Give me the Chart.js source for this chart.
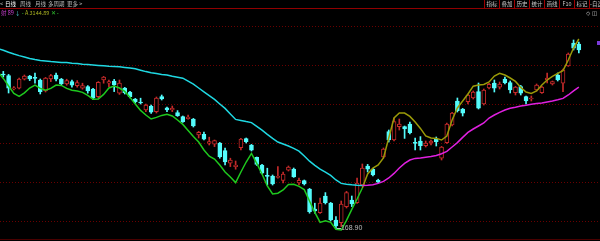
<!DOCTYPE html>
<html>
<head>
<meta charset="utf-8">
<script src="https://cdn.jsdelivr.net/npm/chart.js@4/dist/chart.umd.min.js"></script>
<style>
  html, body { margin: 0; padding: 0; background: #000; }
  #wrap { position: relative; width: 600px; height: 241px; overflow: hidden; font-family: "Noto Sans CJK SC", sans-serif; }
  #wrap canvas { position: absolute; left: 0; top: 0; }
  .t { position: absolute; font-size: 5.5px; line-height: 8px; white-space: nowrap; color: #b8b8b8; }
  #tabs span { position: absolute; top: 0; }
  #btns { position: absolute; left: 484px; top: 0; height: 8px; display: flex; }
  #btns div { width: 14px; height: 8px; border-left: 1px solid #a00000; text-align: center; font-size: 5.5px; line-height: 8px; color: #c8c8c8; white-space: nowrap; }
  #rule { position: absolute; left: 0; top: 8px; width: 600px; height: 1px; background: #900000; }
  #floor { position: absolute; left: 0; top: 239px; width: 600px; height: 1px; background: #4a0000; }
  #info { position: absolute; left: 1px; top: 9px; font-size: 5.5px; line-height: 8px; white-space: nowrap; }
  #marker { position: absolute; left: 597px; top: 41px; width: 3px; height: 4px; background: #7a3ad8; }
</style>
</head>
<body>
<div id="wrap">
  <canvas id="c" width="600" height="241"></canvas>
  <div class="t" id="tabs">
    <span style="left:0">&lt;</span>
    <span style="left:5px;color:#fff">日线</span>
    <span style="left:20px">周线</span>
    <span style="left:35px">月线</span>
    <span style="left:48px">多周期</span>
    <span style="left:67px">更多 &gt;</span>
  </div>
  <div id="btns">
    <div>指标</div><div>叠加</div><div>历史</div><div>统计</div><div>画线</div><div>F10</div><div>标记</div><div style="text-align:left">-自选</div>
  </div>
  <div id="rule"></div>
  <div id="info">
    <span style="color:#d040d8">射 89</span>
    <span style="color:#50d8e0">↓</span>
    <span style="color:#30c030">-</span>
    <span style="color:#a8b020">A 3144.89</span>
    <span style="color:#30c030">✕ -</span>
  </div>
  <div class="t" style="left:586px;top:9px;color:#d0d0d0;font-family:'DejaVu Sans'">◇ ◫</div>
  <div id="marker"></div>
  <div id="floor"></div>
</div>
<script>
// daily candles, index 1..110
const OPEN = [
  246.4, 245.6, 239.0, 239.3, 243.8, 245.4, 244.7, 243.4, 237.9, 243.9,
  245.9, 243.8, 241.4, 242.6, 240.6, 239.3, 240.1, 238.8, 235.1, 243.4,
  241.8, 242.9, 236.8, 239.3, 237.3, 233.8, 232.4, 228.4, 230.4, 227.6,
  235.1, 229.5, 228.4, 227.1, 225.1, 224.1, 223.8, 215.9, 216.2, 211.8,
  211.3, 211.8, 208.1, 201.8, 200.1, 209.6, 214.1, 210.8, 204.7, 200.9,
  195.7, 195.4, 194.7, 193.2, 198.3, 198.8, 191.9, 193.1, 188.8, 178.9,
  177.1, 185.4, 181.8, 173.4, 172.1, 180.1, 183.4, 182.1, 190.9, 200.4,
  198.8, 193.4, 204.9, 217.6, 213.4, 220.1, 220.1, 221.3, 212.2, 212.9,
  210.6, 211.9, 213.8, 204.3, 212.1, 220.9, 232.9, 228.8, 232.6, 234.4,
  237.6, 231.4, 239.4, 241.8, 239.8, 243.8, 242.1, 237.1, 240.1, 235.1,
  233.9, 238.4, 237.1, 243.4, 241.4, 245.9, 241.8, 250.4, 261.8, 261.4
];
const HIGH = [
  247.7, 246.2, 240.1, 244.4, 245.9, 245.7, 246.8, 243.9, 244.7, 246.2,
  246.8, 244.2, 243.8, 243.4, 243.1, 241.8, 240.6, 239.2, 242.6, 245.2,
  243.4, 243.7, 243.4, 239.7, 237.7, 234.2, 234.3, 231.4, 230.9, 234.9,
  235.9, 229.9, 230.4, 228.1, 225.4, 225.9, 224.2, 217.7, 217.4, 214.8,
  213.4, 212.2, 209.3, 204.3, 202.9, 214.2, 214.4, 211.2, 204.9, 201.2,
  199.3, 195.9, 200.1, 197.4, 200.4, 199.4, 194.4, 193.4, 189.2, 181.8,
  184.3, 187.1, 182.2, 175.1, 182.9, 187.7, 185.4, 194.4, 201.4, 201.2,
  199.2, 193.8, 209.4, 218.4, 224.3, 223.9, 220.4, 222.4, 214.4, 215.1,
  212.9, 213.4, 214.9, 210.2, 221.9, 227.2, 234.4, 229.2, 236.4, 237.9,
  241.9, 238.9, 241.7, 243.4, 242.4, 244.9, 242.9, 240.2, 240.7, 235.4,
  235.4, 241.4, 240.2, 246.9, 242.9, 246.9, 248.9, 256.9, 263.4, 262.4
];
const LOW = [
  244.9, 236.9, 238.4, 238.9, 243.4, 243.1, 241.8, 236.4, 237.4, 242.6,
  242.9, 240.9, 240.8, 239.8, 239.8, 238.8, 236.8, 233.7, 234.4, 241.8,
  240.1, 237.6, 236.2, 236.4, 234.4, 231.9, 231.4, 227.6, 226.7, 226.9,
  233.4, 227.6, 227.6, 225.2, 222.2, 223.8, 219.9, 214.4, 213.4, 210.9,
  210.1, 204.3, 200.9, 200.1, 198.8, 208.4, 211.9, 207.9, 200.7, 196.4,
  190.9, 190.9, 194.3, 191.9, 197.9, 194.7, 190.9, 190.9, 176.8, 176.8,
  176.7, 181.4, 172.9, 168.9, 170.1, 179.4, 180.1, 181.7, 190.4, 197.4,
  195.4, 191.9, 204.4, 212.4, 212.9, 218.4, 214.2, 216.4, 208.4, 208.4,
  209.9, 210.9, 210.4, 203.4, 211.7, 220.4, 227.4, 225.4, 231.4, 233.9,
  228.9, 230.9, 238.9, 237.4, 238.9, 241.4, 236.9, 235.9, 235.9, 231.4,
  232.9, 237.9, 236.7, 241.9, 240.9, 242.9, 237.6, 250.2, 258.4, 256.9
];
const CLOSE = [
  245.9, 239.3, 239.5, 243.8, 245.4, 243.9, 244.2, 237.6, 244.3, 245.6,
  243.8, 241.4, 243.1, 240.8, 242.1, 240.6, 237.9, 234.3, 242.2, 244.8,
  242.6, 240.9, 241.8, 237.1, 235.1, 232.6, 231.9, 230.9, 227.3, 234.3,
  233.9, 228.4, 229.3, 225.6, 222.6, 224.8, 220.4, 217.2, 213.8, 212.6,
  213.1, 205.1, 202.4, 203.4, 200.9, 213.8, 212.6, 208.3, 201.2, 196.8,
  195.2, 191.4, 195.2, 196.4, 199.8, 194.9, 193.2, 191.4, 177.6, 177.9,
  181.8, 182.1, 173.4, 170.4, 181.3, 187.1, 181.4, 191.8, 199.3, 198.8,
  195.9, 192.3, 208.9, 213.4, 222.6, 221.3, 218.9, 217.1, 211.7, 210.6,
  211.8, 212.9, 212.6, 209.8, 221.3, 226.8, 228.1, 226.8, 235.9, 237.4,
  229.3, 238.4, 241.2, 239.3, 241.4, 242.1, 238.4, 239.8, 236.8, 232.9,
  234.4, 240.9, 239.8, 244.4, 242.6, 243.4, 248.4, 256.3, 259.3, 258.4
];

// trend lines, index 0..69 (downtrend) and 69..110 (uptrend)
const RESIST = [
  259.1, 258.3, 257.3, 256.4, 255.6, 254.9, 254.2, 253.6, 253.2, 252.9,
  252.6, 252.4, 252.2, 252.1, 251.8, 251.6, 251.3, 251.1, 250.9, 250.7,
  250.5, 250.3, 250.2, 250.0, 249.7, 249.4, 249.0, 248.3, 247.6, 247.0,
  246.6, 246.2, 245.9, 245.3, 244.8, 244.3, 242.8, 241.3, 239.4, 237.5,
  235.6, 233.7, 231.4, 229.2, 226.4, 223.7, 223.2, 222.6, 222.1, 220.2,
  218.3, 216.2, 214.2, 212.4, 211.4, 210.4, 209.2, 207.8, 205.4, 202.8,
  200.7, 198.8, 197.3, 195.7, 193.4, 191.7, 191.3, 191.0, 190.8, 190.7
];
const SUPPORT = [
  190.7, 190.8, 191.0, 191.7, 192.7, 194.4, 196.7, 199.4, 201.7, 203.4,
  204.2, 204.4, 204.8, 205.1, 205.7, 206.5, 207.7, 209.9, 212.1, 214.7,
  217.2, 218.9, 220.4, 221.9, 224.4, 225.9, 227.2, 228.4, 229.3, 229.8,
  230.4, 230.8, 231.3, 231.6, 231.9, 232.4, 232.9, 233.5, 234.2, 235.9,
  238.0, 239.8
];
const FAST_DOWN = [
  247.4, 244.2, 240.4, 236.7, 235.2, 237.0, 239.4, 240.8, 239.2, 238.3,
  239.2, 240.9, 240.7, 239.2, 238.3, 237.9, 237.2, 235.7, 233.8, 233.9,
  236.2, 239.4, 240.4, 239.4, 237.7, 234.7, 231.4, 228.2, 225.9, 223.9,
  224.7, 225.7, 226.3, 225.4, 223.4, 221.2, 218.2, 215.2, 212.4, 208.4,
  205.3, 203.9, 200.9, 197.4, 194.9, 192.1, 197.4, 202.4, 206.7, 201.7,
  196.4, 190.4, 186.4, 186.8, 188.4, 191.2, 191.3, 190.2, 188.6, 182.9,
  177.2, 172.2, 173.0, 172.2, 168.8, 168.4, 173.2, 178.7, 183.9, 189.4
];
const FAST_UP = [
  189.4, 196.4, 199.4, 200.9, 204.4, 214.4, 224.4, 226.9, 226.9, 225.2,
  222.4, 219.2, 215.4, 214.4, 214.2, 213.4, 215.4, 223.4, 229.4, 232.9,
  236.4, 240.3, 240.9, 241.2, 242.4, 245.4, 246.7, 245.9, 244.4, 242.7,
  239.7, 237.4, 236.7, 237.9, 240.9, 243.4, 245.2, 246.7, 248.1, 253.4,
  259.4, 263.9
];
const TURN = 69; // index where the trend flips

const GRID = [270.4, 250.9, 231.4, 211.9, 192.4, 172.9];

const UP = '#c42a2a';
const DOWN = '#54fcfc';

const isUp = (i) => CLOSE[i] >= OPEN[i];
const candleColor = OPEN.map((o, i) => (isUp(i) ? UP : DOWN));

// dotted price grid, drawn under the candles
const priceGrid = {
  id: 'priceGrid',
  beforeDatasetsDraw(chart) {
    const { ctx, scales: { y } } = chart;
    ctx.save();
    ctx.strokeStyle = '#6a0000';
    ctx.lineWidth = 1;
    ctx.setLineDash([1, 2]);
    GRID.forEach((v) => {
      const py = Math.round(y.getPixelForValue(v)) + 0.5;
      ctx.beginPath();
      ctx.moveTo(0, py);
      ctx.lineTo(598, py);
      ctx.stroke();
    });
    ctx.restore();
  },
};

const lowLabel = {
  id: 'lowLabel',
  afterDatasetsDraw(chart) {
    const { ctx, scales: { x, y } } = chart;
    const lo = Math.min(...LOW);
    const i = LOW.indexOf(lo);
    const px = x.getPixelForValue(i + 1);
    const py = Math.round(y.getPixelForValue(lo)) - 0.5;
    ctx.save();
    ctx.strokeStyle = '#bcbcbc';
    ctx.lineWidth = 1;
    ctx.beginPath();
    ctx.moveTo(px + 1, py);
    ctx.lineTo(px + 5, py);
    ctx.stroke();
    ctx.fillStyle = '#bcbcbc';
    ctx.font = '7px "Liberation Sans"';
    ctx.textBaseline = 'middle';
    ctx.fillText(lo.toFixed(2), px + 5, py);
    ctx.restore();
  },
};

const line = (values, start, color) => ({
  type: 'line',
  data: values.map((v, k) => ({ x: start + k, y: v })),
  borderColor: color,
  borderWidth: 1.5,
  pointRadius: 0,
  tension: 0,
  order: 0,
});

// eslint-disable-next-line no-unused-vars
const chart = new Chart(document.getElementById('c').getContext('2d'), {
  data: {
    datasets: [
      {
        type: 'bar',
        data: LOW.map((l, i) => ({ x: i + 1, y: [l, HIGH[i]] })),
        backgroundColor: candleColor,
        barThickness: 1,
        grouped: false,
        order: 3,
      },
      {
        type: 'bar',
        data: OPEN.map((o, i) => ({ x: i + 1, y: [o, CLOSE[i]] })),
        backgroundColor: OPEN.map((o, i) => (isUp(i) ? '#000' : DOWN)),
        borderColor: candleColor,
        borderWidth: 1,
        borderSkipped: false,
        barThickness: 4,
        grouped: false,
        order: 2,
      },
      line(RESIST, 0, '#1fd8e2'),
      line(SUPPORT, TURN, '#e020e0'),
      line(FAST_DOWN, 0, '#1ec81e'),
      line(FAST_UP, TURN, '#9a9a08'),
    ],
  },
  options: {
    responsive: false,
    animation: false,
    events: [],
    layout: { padding: { top: 9, right: 2, bottom: 2, left: 0 } },
    plugins: { legend: { display: false }, tooltip: { enabled: false } },
    scales: {
      x: { type: 'linear', offset: false, min: 0.375, max: 113.63, display: false },
      y: { min: 163.9, max: 278.9, display: false },
    },
  },
  plugins: [priceGrid, lowLabel],
});
</script>
</body>
</html>
